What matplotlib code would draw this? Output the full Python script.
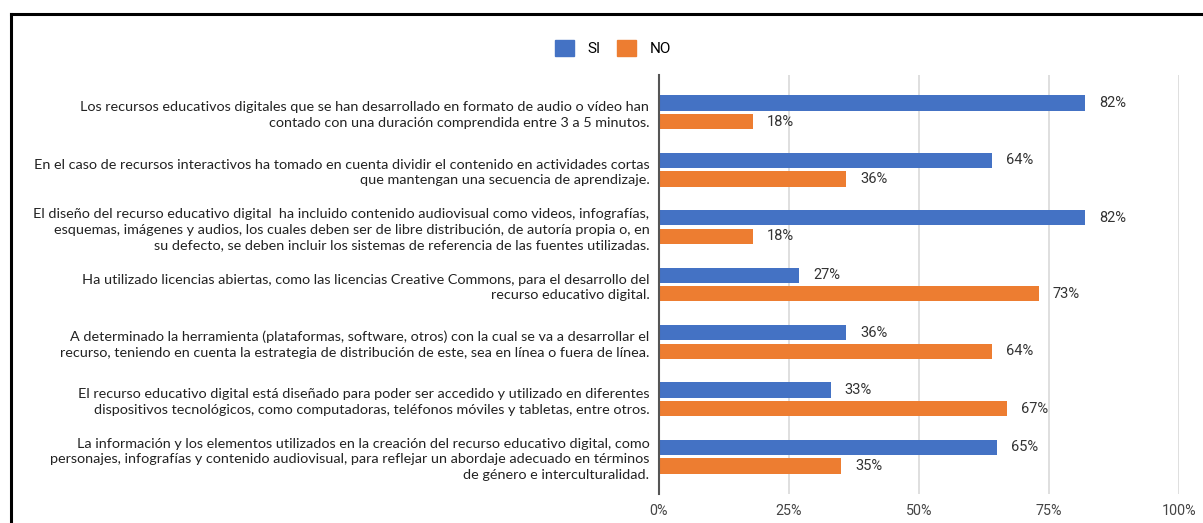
import numpy as np
import matplotlib.pyplot as plt
from matplotlib.lines import Line2D
from matplotlib.patches import Patch

# data
preguntas = [
    "Los recursos educativos digitales que se han desarrollado en formato de audio o vídeo han\ncontado con una duración comprendida entre 3 a 5 minutos.",
    "En el caso de recursos interactivos ha tomado en cuenta dividir el contenido en actividades cortas\nque mantengan una secuencia de aprendizaje.",
    "El diseño del recurso educativo digital  ha incluido contenido audiovisual como videos, infografías,\nesquemas, imágenes y audios, los cuales deben ser de libre distribución, de autoría propia o, en\nsu defecto, se deben incluir los sistemas de referencia de las fuentes utilizadas.",
    "Ha utilizado licencias abiertas, como las licencias Creative Commons, para el desarrollo del\nrecurso educativo digital.",
    "A determinado la herramienta (plataformas, software, otros) con la cual se va a desarrollar el\nrecurso, teniendo en cuenta la estrategia de distribución de este, sea en línea o fuera de línea.",
    "El recurso educativo digital está diseñado para poder ser accedido y utilizado en diferentes\ndispositivos tecnológicos, como computadoras, teléfonos móviles y tabletas, entre otros.",
    "La información y los elementos utilizados en la creación del recurso educativo digital, como\npersonajes, infografías y contenido audiovisual, para reflejar un abordaje adecuado en términos\nde género e interculturalidad.",
]
si = [82, 64, 82, 27, 36, 33, 65]
no = [18, 36, 18, 73, 64, 67, 35]
ticks = [0, 25, 50, 75, 100]

azul = '#4472C4'
naranja = '#ED7D31'

fig = plt.figure(figsize=(12.03, 5.23), dpi=100)
ax = fig.add_axes([659/1203, 1-494/523, 520/1203, 419/523])

y = np.arange(len(preguntas))
h = 0.265
off = 0.162
ax.barh(y - off, si, height=h, color=azul, zorder=3)
ax.barh(y + off, no, height=h, color=naranja, zorder=3)

for i in range(len(y)):
    ax.text(si[i] + 2.7, y[i] - off, f"{si[i]}%", va='center', ha='left',
            fontsize=10.5, color='#333333', family='Roboto')
    ax.text(no[i] + 2.7, y[i] + off, f"{no[i]}%", va='center', ha='left',
            fontsize=10.5, color='#333333', family='Roboto')

ax.set_xlim(0, 100)
ax.set_ylim(6.65, -0.65)
ax.set_xticks(ticks)
ax.set_xticklabels([f"{t}%" for t in ticks], family='Roboto', fontsize=10.3, color='#444444')
ax.set_yticks(y)
ax.set_yticklabels(preguntas, family='Lato', fontsize=10.4, color='#222222', linespacing=1.35)
ax.tick_params(axis='both', length=0)
ax.tick_params(axis='y', pad=7)
ax.tick_params(axis='x', pad=7)
ax.grid(axis='x', color='#d9d9d9', linewidth=1.2, zorder=0)
for s in ['top', 'right', 'bottom']:
    ax.spines[s].set_visible(False)
ax.spines['left'].set_color('#555555')
ax.spines['left'].set_linewidth(1.5)
ax.spines['left'].set_zorder(4)

handles = [Patch(color=azul, label='SI'), Patch(color=naranja, label='NO')]
fig.legend(handles=handles, loc='center', bbox_to_anchor=(613/1203, 1-48/523), ncol=2,
           frameon=False, prop={'family': 'Roboto', 'size': 11}, handlelength=1.2,
           handleheight=1.2, columnspacing=1.1, handletextpad=0.9)

# marco
fig.add_artist(Line2D([11/1203, 11/1203], [0, 1-14/523], color='black', lw=2.2))
fig.add_artist(Line2D([11/1203, 1], [1-14/523, 1-14/523], color='black', lw=2.2))

fig.savefig('out.png', dpi=100)
